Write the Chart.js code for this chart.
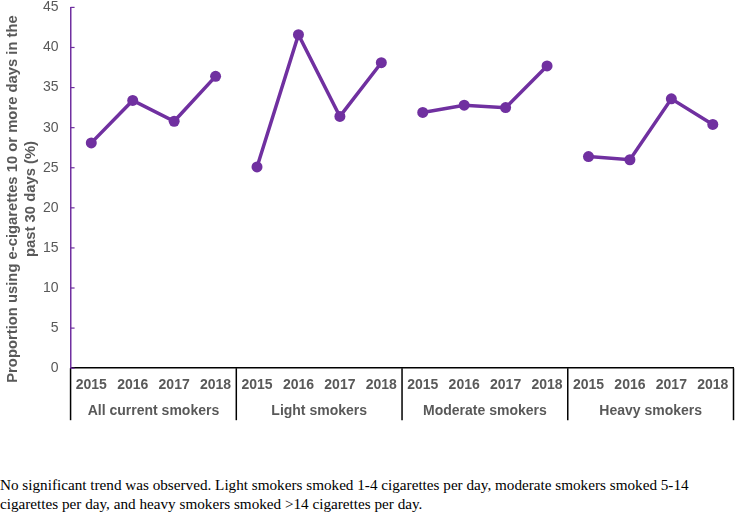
<!DOCTYPE html>
<html>
<head>
<meta charset="utf-8">
<script src="https://cdn.jsdelivr.net/npm/chart.js@4.4.0/dist/chart.umd.min.js"></script>
<style>
  html, body { margin: 0; padding: 0; background: #fff; overflow: hidden; }
  #wrap { position: relative; width: 739px; height: 514px; overflow: hidden; }
  #chart { position: absolute; left: 0; top: -13px; }
  #caption {
    position: absolute; left: 0; top: 475px; width: 739px;
    font-family: "Liberation Serif", "Times New Roman", serif;
    font-size: 15.2px; line-height: 19px; color: #000;
  }
</style>
</head>
<body>
<div id="wrap">
  <canvas id="chart" width="739" height="440"></canvas>
  <div id="caption">No significant trend was observed. Light smokers smoked 1-4 cigarettes per day, moderate smokers smoked 5-14 cigarettes per day, and heavy smokers smoked &gt;14 cigarettes per day.</div>
</div>
<script>
// categories
const years = ['2015', '2016', '2017', '2018'];
const groups = ['All current smokers', 'Light smokers', 'Moderate smokers', 'Heavy smokers'];

// series values (%)
const allSmokers = [28.1, 33.4, 30.8, 36.4];
const lightSmokers = [25.1, 41.6, 31.4, 38.1];
const moderateSmokers = [31.9, 32.8, 32.5, 37.7];
const heavySmokers = [26.4, 26.0, 33.6, 30.4];

const yTicks = { min: 0, max: 45, step: 5 };
const yTitle = ['Proportion using e-cigarettes 10 or more days in the', 'past 30 days (%)'];

const purple = '#7030A0';
const grey = '#595959';
const sans = '"Liberation Sans", Arial, sans-serif';

document.addEventListener("DOMContentLoaded", () => {
    const ctx = document.getElementById('chart').getContext('2d');

    // 16 categories: each group repeats the four years
    const labels = [];
    groups.forEach(() => years.forEach(y => labels.push(y)));

    const seriesList = [allSmokers, lightSmokers, moderateSmokers, heavySmokers];
    const datasets = seriesList.map((values, g) => {
        const data = new Array(labels.length).fill(null);
        values.forEach((v, i) => { data[g * years.length + i] = v; });
        return {
            label: groups[g],
            data: data,
            borderColor: purple,
            backgroundColor: purple,
            borderWidth: 3.5,
            pointRadius: 5.5,
            pointBorderWidth: 0,
            pointHoverRadius: 5.5,
            spanGaps: false,
            fill: false,
            tension: 0
        };
    });

    // group dividers + names under the years, inside y ticks, rotated y title
    const extras = {
        id: 'extras',
        afterDraw(chart) {
            const area = chart.chartArea;
            const c = chart.ctx;
            const n = labels.length;
            const step = (area.right - area.left) / n;
            const bottom = area.bottom + 52;
            c.save();
            c.strokeStyle = '#000';
            c.lineWidth = 1.5;
            for (let g = 0; g <= groups.length; g++) {
                const px = area.left + g * years.length * step;
                c.beginPath();
                c.moveTo(px, area.bottom);
                c.lineTo(px, bottom);
                c.stroke();
            }
            c.fillStyle = grey;
            c.font = 'bold 14px ' + sans;
            c.textAlign = 'center';
            c.textBaseline = 'middle';
            groups.forEach((name, g) => {
                const cx = area.left + (g * years.length + years.length / 2) * step;
                c.fillText(name, cx, area.bottom + 43);
            });

            // small tick marks pointing into the plot
            const y = chart.scales.y;
            c.strokeStyle = purple;
            c.lineWidth = 1.2;
            y.ticks.forEach(t => {
                const py = y.getPixelForValue(t.value);
                c.beginPath();
                c.moveTo(area.left, py);
                c.lineTo(area.left + 4, py);
                c.stroke();
            });

            // y title, two rotated lines
            c.font = 'bold 14.8px ' + sans;
            c.fillStyle = grey;
            c.translate(0, 212);
            c.rotate(-Math.PI / 2);
            c.fillText(yTitle[0], 0, 13);
            c.fillText(yTitle[1], 0, 31);
            c.restore();
        }
    };

    new Chart(ctx, {
        type: 'line',
        data: { labels: labels, datasets: datasets },
        options: {
            responsive: false,
            animation: false,
            layout: { padding: { left: 31, right: 2, top: 6, bottom: 24 } },
            plugins: {
                legend: { display: false },
                tooltip: { enabled: false }
            },
            scales: {
                x: {
                    offset: true,
                    grid: { display: false, drawTicks: false },
                    border: { color: '#000', width: 1.5 },
                    ticks: {
                        color: grey,
                        padding: 9,
                        maxRotation: 0,
                        autoSkip: false,
                        font: { family: sans, size: 14, weight: 'bold' }
                    }
                },
                y: {
                    min: yTicks.min,
                    max: yTicks.max,
                    ticks: {
                        stepSize: yTicks.step,
                        color: grey,
                        padding: 12,
                        font: { family: sans, size: 14 }
                    },
                    grid: { display: false, drawTicks: false },
                    border: { color: purple, width: 1.5 }
                }
            }
        },
        plugins: [extras]
    });
});
</script>
</body>
</html>
